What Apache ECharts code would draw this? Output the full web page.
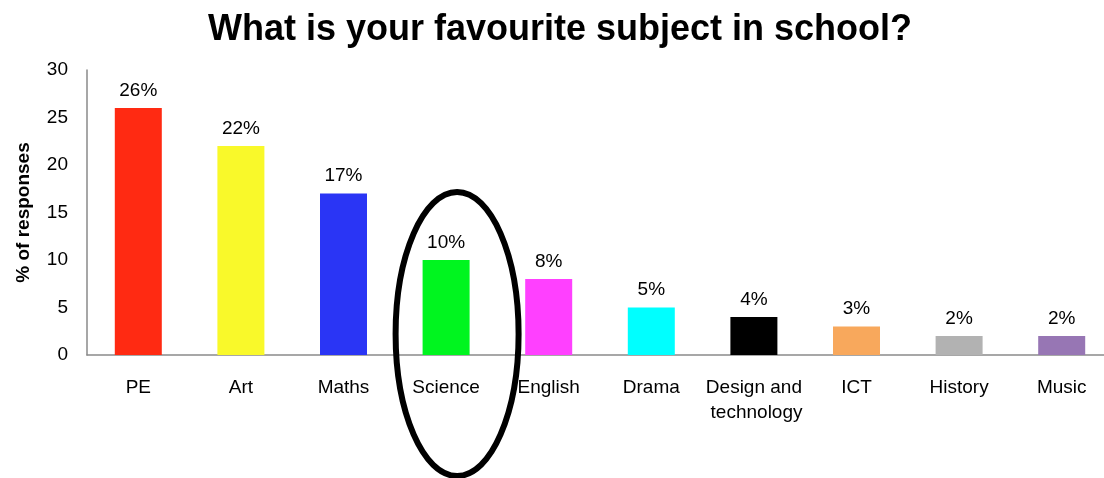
<!DOCTYPE html>
<html>
<head>
<meta charset="utf-8">
<script src="https://cdn.jsdelivr.net/npm/echarts@6/dist/echarts.min.js"></script>
<style>
html,body{margin:0;padding:0;background:#fff;overflow:hidden;width:1104px;height:478px;}
#c{width:1120px;height:478px;}
</style>
</head>
<body>
<div id="c"></div>
<script>
var titleText = "What is your favourite subject in school?";
var categories = ["PE", "Art", "Maths", "Science", "English", "Drama", "Design and technology", "ICT", "History", "Music"];
var values = [26, 22, 17, 10, 8, 5, 4, 3, 2, 2];
var yTicks = { min: 0, max: 30, interval: 5 };
var yAxisName = "% of responses";
var highlighted = "Science";

var barColors = ["#ff2a12", "#f9f92a", "#2a35f5", "#00f51f", "#ff40ff", "#00ffff", "#000000", "#f8a85c", "#b2b2b2", "#9776b4"];
var font = "Liberation Sans, Arial, sans-serif";

var chart = echarts.init(document.getElementById('c'));
var option = {
  animation: false,
  backgroundColor: '#fff',
  title: {
    text: titleText,
    left: 555, top: 7, textAlign: 'center',
    textStyle: { fontFamily: font, fontSize: 36, fontWeight: 'bold', color: '#000' }
  },
  grid: { left: 87, width: 1026, top: 70, height: 285, containLabel: false },
  xAxis: {
    type: 'category',
    data: categories,
    axisLine: { show: true, lineStyle: { color: '#8a8a8a', width: 1.5 } },
    axisTick: { show: false },
    axisLabel: {
      interval: 0, margin: 20, color: '#000',
      fontFamily: font, fontSize: 19, lineHeight: 25,
      width: 100, overflow: 'break'
    }
  },
  yAxis: {
    type: 'value',
    min: yTicks.min, max: yTicks.max, interval: yTicks.interval,
    name: yAxisName, nameLocation: 'middle', nameGap: 54, nameRotate: 90,
    nameTextStyle: { fontFamily: font, fontSize: 19, fontWeight: 'bold', color: '#000' },
    axisLine: { show: true, lineStyle: { color: '#8a8a8a', width: 1.5 } },
    axisTick: { show: false },
    splitLine: { show: false },
    axisLabel: { margin: 19, color: '#000', fontFamily: font, fontSize: 19 }
  },
  series: [{
    type: 'bar',
    data: values,
    barWidth: 47,
    itemStyle: { color: function (p) { return barColors[p.dataIndex]; } },
    label: {
      show: true, position: 'top', distance: 8,
      formatter: '{c}%', color: '#000',
      fontFamily: font, fontSize: 19
    }
  }]
};
chart.setOption(option);

var idx = categories.indexOf(highlighted);
var p = chart.convertToPixel({ gridIndex: 0 }, [idx, 0]);
chart.setOption({
  graphic: [{
    type: 'ellipse',
    shape: { cx: p[0] + 11, cy: p[1] - 21, rx: 61.5, ry: 142 },
    style: { fill: 'none', stroke: '#000', lineWidth: 6 },
    z: 100
  }]
});
</script>
</body>
</html>
